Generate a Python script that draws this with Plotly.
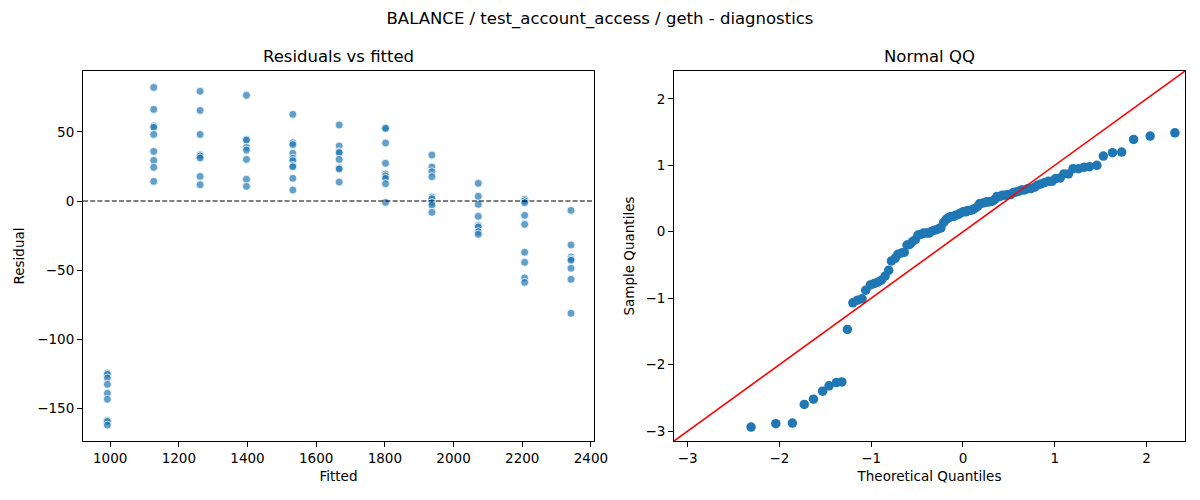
import plotly.graph_objects as go

# fitted value of each group and the residuals
fitted_levels = [992, 1127, 1262, 1397, 1532, 1667, 1802, 1937, 2072, 2207, 2342]
residual_groups = [
    [-124.5, -125.5, -128.1, -132.7, -139.2, -143.5, -158.8, -159.6, -162.2],
    [82.2, 66.3, 54.3, 53.3, 48.2, 35.9, 29.4, 24.4, 14.2],
    [79.4, 65.6, 48.2, 33.5, 32.6, 31.1, 17.8, 11.8],
    [76.5, 44.6, 44.1, 38.8, 36.9, 30.1, 15.7, 10.6],
    [62.7, 42.2, 40.8, 34.5, 30.9, 29.2, 25.6, 24.8, 16.4, 8.0],
    [55.0, 39.8, 35.7, 35.0, 30.1, 23.9, 23.2, 13.7],
    [52.6, 52.6, 42.0, 27.3, 19.5, 18.1, 16.4, 12.5, -1.0],
    [33.3, 24.6, 21.2, 17.6, 2.9, 1.7, -1.2, -2.9, -8.2],
    [12.8, 3.4, -2.4, -11.1, -17.8, -18.8, -22.2, -24.1],
    [1.2, 0.2, -1.2, -10.4, -16.9, -37.1, -44.4, -55.7, -58.9],
    [-6.8, -31.8, -40.5, -42.0, -42.9, -48.7, -56.7, -81.3],
]

# normal QQ points (theoretical, sample)
qq_theoretical = [
    -2.31, -2.04, -1.86, -1.73, -1.63, -1.53, -1.46, -1.38, -1.32, -1.26,
    -1.20, -1.15, -1.10, -1.06, -1.01, -0.97, -0.93, -0.89, -0.85, -0.81,
    -0.78, -0.74, -0.71, -0.67, -0.64, -0.61, -0.58, -0.55, -0.52, -0.49,
    -0.46, -0.43, -0.40, -0.37, -0.35, -0.32, -0.29, -0.26, -0.24, -0.21,
    -0.18, -0.16, -0.13, -0.10, -0.08, -0.05, -0.03, 0.00, 0.03, 0.05,
    0.08, 0.10, 0.13, 0.16, 0.18, 0.21, 0.24, 0.26, 0.29, 0.32,
    0.35, 0.37, 0.40, 0.43, 0.46, 0.49, 0.52, 0.55, 0.58, 0.61,
    0.64, 0.67, 0.71, 0.74, 0.78, 0.81, 0.85, 0.89, 0.93, 0.97,
    1.01, 1.06, 1.10, 1.15, 1.20, 1.26, 1.32, 1.38, 1.46, 1.53,
    1.63, 1.73, 1.86, 2.04, 2.31,
]
qq_sample = [
    -2.94, -2.89, -2.88, -2.60, -2.52, -2.40, -2.32, -2.27, -2.26, -1.47,
    -1.07, -1.03, -1.01, -0.88, -0.80, -0.78, -0.76, -0.73, -0.67, -0.58,
    -0.44, -0.40, -0.34, -0.32, -0.31, -0.20, -0.19, -0.15, -0.12, -0.05,
    -0.04, -0.02, -0.02, -0.02, 0.00, 0.02, 0.03, 0.05, 0.06, 0.14,
    0.19, 0.21, 0.23, 0.23, 0.25, 0.26, 0.28, 0.30, 0.30, 0.32,
    0.32, 0.33, 0.35, 0.38, 0.42, 0.43, 0.44, 0.45, 0.45, 0.46,
    0.49, 0.53, 0.53, 0.55, 0.55, 0.56, 0.56, 0.59, 0.60, 0.61,
    0.63, 0.63, 0.65, 0.65, 0.67, 0.70, 0.72, 0.74, 0.76, 0.76,
    0.80, 0.81, 0.87, 0.87, 0.95, 0.95, 0.97, 0.98, 1.00, 1.14,
    1.19, 1.20, 1.39, 1.44, 1.49,
]
qq_limits = [-3.15, 2.42]

fitted = []
residuals = []
for f, group in zip(fitted_levels, residual_groups):
    fitted += [f] * len(group)
    residuals += group

font = "DejaVu Sans"
fig = go.Figure()

fig.add_trace(go.Scatter(
    x=fitted, y=residuals, mode="markers",
    marker=dict(size=8, color="rgba(31,119,180,0.7)",
                line=dict(color="white", width=0.8)),
    xaxis="x", yaxis="y", showlegend=False,
))
fig.add_shape(type="line", xref="x domain", yref="y", x0=0, x1=1, y0=0, y1=0,
              line=dict(color="black", width=1.1, dash="5px,2.2px"))

fig.add_trace(go.Scatter(
    x=qq_theoretical, y=qq_sample, mode="markers",
    marker=dict(size=9.5, color="#1f77b4"),
    xaxis="x2", yaxis="y2", showlegend=False,
))
fig.add_trace(go.Scatter(
    x=qq_limits, y=qq_limits, mode="lines",
    line=dict(color="red", width=1.6),
    xaxis="x2", yaxis="y2", showlegend=False,
))

axis_style = dict(
    showline=True, linecolor="black", linewidth=1, mirror=True, automargin=False,
    ticks="outside", ticklen=5, tickcolor="black", showgrid=False,
    zeroline=False, tickfont=dict(size=13.5, color="black"),
    title_font=dict(size=13.5, color="black"),
)

fig.update_layout(
    template="none",
    width=1200, height=500, autosize=False,
    margin=dict(l=83, r=15, t=71, b=59, pad=0),
    plot_bgcolor="white", paper_bgcolor="white",
    font=dict(family=font, color="black"),
    title=dict(text="BALANCE / test_account_access / geth - diagnostics",
               x=0.5, xanchor="center", y=0.964, yanchor="middle",
               font=dict(size=16.5)),
    xaxis=dict(domain=[0, 0.4637], range=[921, 2409], tickvals=list(range(1000, 2401, 200)),
               title=dict(text="Fitted", standoff=6), **axis_style),
    yaxis=dict(domain=[0, 1], range=[-173.7, 94.1], tickvals=[-150, -100, -50, 0, 50],
               title=dict(text="Residual", standoff=9), **axis_style),
    xaxis2=dict(domain=[0.5363, 1], range=qq_limits, anchor="y2", tickvals=[-3, -2, -1, 0, 1, 2],
                title=dict(text="Theoretical Quantiles", standoff=6), **axis_style),
    yaxis2=dict(domain=[0, 1], range=qq_limits, anchor="x2", tickvals=[-3, -2, -1, 0, 1, 2],
                title=dict(text="Sample Quantiles", standoff=7), **axis_style),
    annotations=[
        dict(text="Residuals vs fitted", xref="paper", yref="paper", x=0.2318, y=1.0,
             yshift=3, xanchor="center", yanchor="bottom", showarrow=False, font=dict(size=16.5)),
        dict(text="Normal QQ", xref="paper", yref="paper", x=0.7681, y=1.0,
             yshift=3, xanchor="center", yanchor="bottom", showarrow=False, font=dict(size=16.5)),
    ],
)

# page sits at the origin with no scrollbars and no modebar
page_fix = (
    "document.body.style.margin='0';"
    "document.body.style.overflow='hidden';"
    "document.documentElement.style.overflow='hidden';"
)
fig.write_html("out.html", config={"displayModeBar": False, "responsive": False},
               post_script=page_fix)
